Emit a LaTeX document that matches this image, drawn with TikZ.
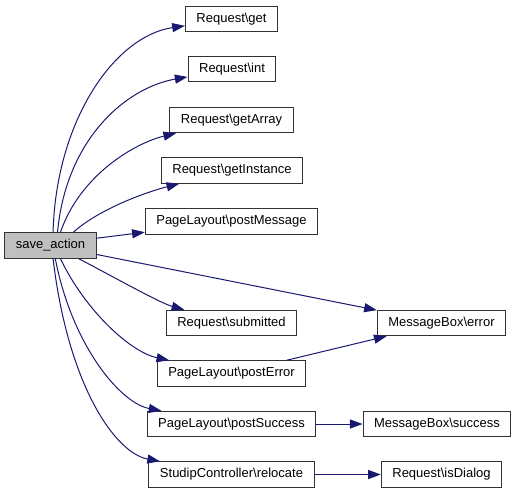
\documentclass[tikz,border=0pt]{standalone}
\usepackage{fontspec}
\setmainfont{Liberation Sans}
\usetikzlibrary{arrows.meta}
\definecolor{edgeblue}{HTML}{191970}
\newcommand{\bs}{\textbackslash}
\tikzset{
    fn/.style={rectangle,draw=black!80,line width=0.8pt, minimum height=19pt, inner xsep=8.3pt, inner ysep=0pt, font=\fontsize{9.75}{11}\selectfont},
    root/.style={fn, fill=black!25},
    call/.style={draw=edgeblue, line width=0.75pt, -{Triangle[length=9.5pt,width=6.8pt]}}
}

\begin{document}
\begin{tikzpicture}[x=0.75pt,y=-0.75pt]
    \useasboundingbox (0,0) rectangle (523,493);
    \node[root] (save) at (50.5,245.5) {save\_action};
    \node[fn] (get) at (231.5,19) {Request\bs get};
    \node[fn] (int) at (232,69) {Request\bs int};
    \node[fn] (getArray) at (231.5,120) {Request\bs getArray};
    \node[fn] (getInstance) at (232,170.5) {Request\bs getInstance};
    \node[fn] (postMessage) at (231.5,221.5) {PageLayout\bs postMessage};
    \node[fn] (submitted) at (231.5,323) {Request\bs submitted};
    \node[fn] (error) at (441.5,323) {MessageBox\bs error};
    \node[fn] (postError) at (231.5,373.5) {PageLayout\bs postError};
    \node[fn] (postSuccess) at (231.5,424) {PageLayout\bs postSuccess};
    \node[fn] (success) at (437,424) {MessageBox\bs success};
    \node[fn] (relocate) at (231.5,474.5) {StudipController\bs relocate};
    \node[fn] (isDialog) at (441.5,474.5) {Request\bs isDialog};

    \draw[call] (save.79) .. controls (56,120) and (115,36) .. (get);
    \draw[call] (save.62) .. controls (66,140) and (125,88) .. (int);
    \draw[call] (save.53) .. controls (80,175) and (135,143) .. (getArray);
    \draw[call] (save.30) .. controls (100,208) and (150,191) .. (getInstance);
    \draw[call] (save.9) -- (postMessage);
    \draw[call] (save.-11.5) -- (error);
    \draw[call] (save.-25) .. controls (110,275) and (160,303) .. (submitted);
    \draw[call] (save.-53) .. controls (85,310) and (130,352) .. (postError);
    \draw[call] (save.-70) .. controls (72,345) and (120,403) .. (postSuccess);
    \draw[call] (save.-79) .. controls (68,385) and (115,453) .. (relocate);
    \draw[call] (postError) -- (error);
    \draw[call] (postSuccess) -- (success);
    \draw[call] (relocate) -- (isDialog);
\end{tikzpicture}
\end{document}
